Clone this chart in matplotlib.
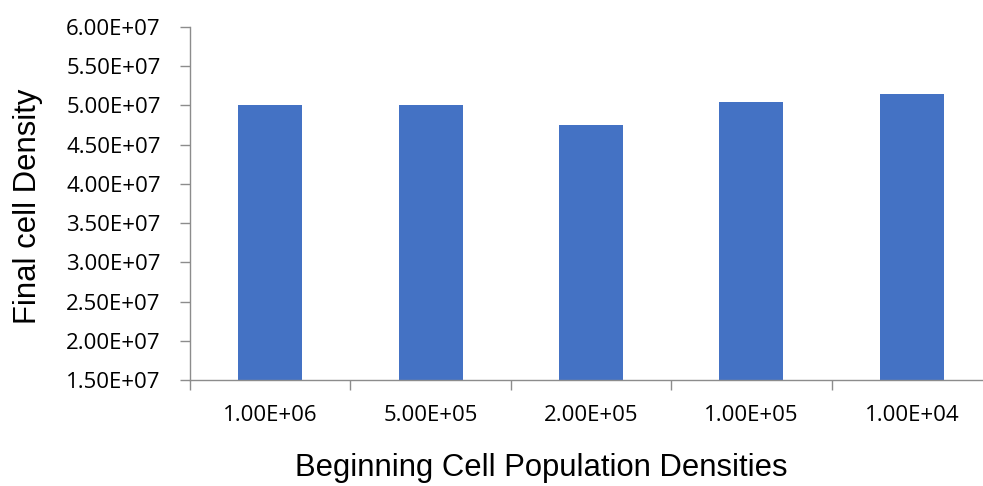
import matplotlib
matplotlib.use("Agg")
import matplotlib.pyplot as plt
from matplotlib.ticker import FixedLocator, FuncFormatter

categories = ["1.00E+06", "5.00E+05", "2.00E+05", "1.00E+05", "1.00E+04"]
final_density = [5.00e7, 5.00e7, 4.75e7, 5.05e7, 5.15e7]
y_ticks = [1.5e7, 2.0e7, 2.5e7, 3.0e7, 3.5e7, 4.0e7, 4.5e7, 5.0e7, 5.5e7, 6.0e7]

W, H = 983, 486
fig = plt.figure(figsize=(W / 100, H / 100), dpi=100)
ax = fig.add_axes([190 / W, (H - 380) / H, (992 - 190) / W, (380 - 27) / H])

x = list(range(len(categories)))
ax.bar(x, final_density, width=0.4, color="#4472C4", zorder=2)

ax.set_xlim(-0.5, len(categories) - 0.5)
ax.set_ylim(1.5e7, 6.0e7)

axis_col = "#8C8C8C"
for side in ("top", "right"):
    ax.spines[side].set_visible(False)
for side in ("left", "bottom"):
    ax.spines[side].set_color(axis_col)
    ax.spines[side].set_linewidth(1.0)

ax.yaxis.set_major_locator(FixedLocator(y_ticks))
ax.yaxis.set_major_formatter(FuncFormatter(lambda v, p: f"{v:.2E}"))
ax.tick_params(axis="y", direction="out", length=7, width=1, color=axis_col,
               pad=14, labelsize=16, labelcolor="#000000")

ax.set_xticks(x)
ax.set_xticklabels(categories, fontfamily="Open Sans")
ax.xaxis.set_minor_locator(FixedLocator([i + 0.5 for i in range(-1, len(categories))]))
ax.tick_params(axis="x", which="major", length=0, pad=18, labelsize=16)
ax.tick_params(axis="x", which="minor", direction="out", length=7, width=1, color=axis_col)
for lab in ax.get_yticklabels():
    lab.set_fontfamily("Open Sans")

fig.text(28 / W, 1 - 206 / H, "Final cell Density", rotation=90, ha="center", va="center",
         fontsize=22.3, fontfamily="Liberation Sans")
fig.text(541 / W, 1 - 468 / H, "Beginning Cell Population Densities", ha="center", va="center",
         fontsize=22.3, fontfamily="Liberation Sans")

fig.savefig("out.png", dpi=100)
